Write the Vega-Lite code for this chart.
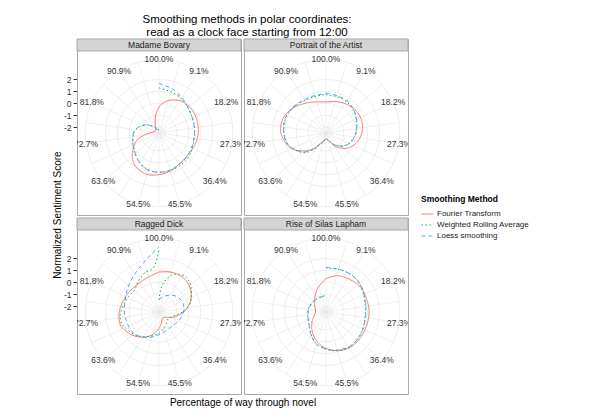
{
  "$schema": "https://vega.github.io/schema/vega-lite/v6.json",
  "padding": {"left": 52, "top": 13, "right": 5, "bottom": 5},
  "bounds": "flush",
  "title": {
    "text": ["Smoothing methods in polar coordinates:", "read as a clock face starting from 12:00"],
    "fontSize": 11.5, "lineHeight": 13, "fontWeight": "normal", "color": "#000000",
    "anchor": "start", "frame": "group", "align": "center", "dx": 170, "offset": -2
  },
  "datasets": {
    "panels": [
      {"novel": "Madame Bovary", "prow": 0, "pcol": 0},
      {"novel": "Portrait of the Artist", "prow": 0, "pcol": 1},
      {"novel": "Ragged Dick", "prow": 1, "pcol": 0},
      {"novel": "Rise of Silas Lapham", "prow": 1, "pcol": 1}
    ],
    "rows": [
      {"novel": "Madame Bovary", "kind": "spoke", "pct": 0, "label": "100.0%"},
      {"novel": "Madame Bovary", "kind": "spoke", "pct": 4.5455},
      {"novel": "Madame Bovary", "kind": "spoke", "pct": 9.0909, "label": "9.1%"},
      {"novel": "Madame Bovary", "kind": "spoke", "pct": 13.6364},
      {"novel": "Madame Bovary", "kind": "spoke", "pct": 18.1818, "label": "18.2%"},
      {"novel": "Madame Bovary", "kind": "spoke", "pct": 22.7273},
      {"novel": "Madame Bovary", "kind": "spoke", "pct": 27.2727, "label": "27.3%"},
      {"novel": "Madame Bovary", "kind": "spoke", "pct": 31.8182},
      {"novel": "Madame Bovary", "kind": "spoke", "pct": 36.3636, "label": "36.4%"},
      {"novel": "Madame Bovary", "kind": "spoke", "pct": 40.9091},
      {"novel": "Madame Bovary", "kind": "spoke", "pct": 45.4545, "label": "45.5%"},
      {"novel": "Madame Bovary", "kind": "spoke", "pct": 50},
      {"novel": "Madame Bovary", "kind": "spoke", "pct": 54.5455, "label": "54.5%"},
      {"novel": "Madame Bovary", "kind": "spoke", "pct": 59.0909},
      {"novel": "Madame Bovary", "kind": "spoke", "pct": 63.6364, "label": "63.6%"},
      {"novel": "Madame Bovary", "kind": "spoke", "pct": 68.1818},
      {"novel": "Madame Bovary", "kind": "spoke", "pct": 72.7273, "label": "72.7%"},
      {"novel": "Madame Bovary", "kind": "spoke", "pct": 77.2727},
      {"novel": "Madame Bovary", "kind": "spoke", "pct": 81.8182, "label": "81.8%"},
      {"novel": "Madame Bovary", "kind": "spoke", "pct": 86.3636},
      {"novel": "Madame Bovary", "kind": "spoke", "pct": 90.9091, "label": "90.9%"},
      {"novel": "Madame Bovary", "kind": "spoke", "pct": 95.4545},
      {"novel": "Madame Bovary", "kind": "ring", "score": -2},
      {"novel": "Madame Bovary", "kind": "ring", "score": -1},
      {"novel": "Madame Bovary", "kind": "ring", "score": 0},
      {"novel": "Madame Bovary", "kind": "ring", "score": 1},
      {"novel": "Madame Bovary", "kind": "ring", "score": 2},
      {"novel": "Portrait of the Artist", "kind": "spoke", "pct": 0, "label": "100.0%"},
      {"novel": "Portrait of the Artist", "kind": "spoke", "pct": 4.5455},
      {"novel": "Portrait of the Artist", "kind": "spoke", "pct": 9.0909, "label": "9.1%"},
      {"novel": "Portrait of the Artist", "kind": "spoke", "pct": 13.6364},
      {"novel": "Portrait of the Artist", "kind": "spoke", "pct": 18.1818, "label": "18.2%"},
      {"novel": "Portrait of the Artist", "kind": "spoke", "pct": 22.7273},
      {"novel": "Portrait of the Artist", "kind": "spoke", "pct": 27.2727, "label": "27.3%"},
      {"novel": "Portrait of the Artist", "kind": "spoke", "pct": 31.8182},
      {"novel": "Portrait of the Artist", "kind": "spoke", "pct": 36.3636, "label": "36.4%"},
      {"novel": "Portrait of the Artist", "kind": "spoke", "pct": 40.9091},
      {"novel": "Portrait of the Artist", "kind": "spoke", "pct": 45.4545, "label": "45.5%"},
      {"novel": "Portrait of the Artist", "kind": "spoke", "pct": 50},
      {"novel": "Portrait of the Artist", "kind": "spoke", "pct": 54.5455, "label": "54.5%"},
      {"novel": "Portrait of the Artist", "kind": "spoke", "pct": 59.0909},
      {"novel": "Portrait of the Artist", "kind": "spoke", "pct": 63.6364, "label": "63.6%"},
      {"novel": "Portrait of the Artist", "kind": "spoke", "pct": 68.1818},
      {"novel": "Portrait of the Artist", "kind": "spoke", "pct": 72.7273, "label": "72.7%"},
      {"novel": "Portrait of the Artist", "kind": "spoke", "pct": 77.2727},
      {"novel": "Portrait of the Artist", "kind": "spoke", "pct": 81.8182, "label": "81.8%"},
      {"novel": "Portrait of the Artist", "kind": "spoke", "pct": 86.3636},
      {"novel": "Portrait of the Artist", "kind": "spoke", "pct": 90.9091, "label": "90.9%"},
      {"novel": "Portrait of the Artist", "kind": "spoke", "pct": 95.4545},
      {"novel": "Portrait of the Artist", "kind": "ring", "score": -2},
      {"novel": "Portrait of the Artist", "kind": "ring", "score": -1},
      {"novel": "Portrait of the Artist", "kind": "ring", "score": 0},
      {"novel": "Portrait of the Artist", "kind": "ring", "score": 1},
      {"novel": "Portrait of the Artist", "kind": "ring", "score": 2},
      {"novel": "Ragged Dick", "kind": "spoke", "pct": 0, "label": "100.0%"},
      {"novel": "Ragged Dick", "kind": "spoke", "pct": 4.5455},
      {"novel": "Ragged Dick", "kind": "spoke", "pct": 9.0909, "label": "9.1%"},
      {"novel": "Ragged Dick", "kind": "spoke", "pct": 13.6364},
      {"novel": "Ragged Dick", "kind": "spoke", "pct": 18.1818, "label": "18.2%"},
      {"novel": "Ragged Dick", "kind": "spoke", "pct": 22.7273},
      {"novel": "Ragged Dick", "kind": "spoke", "pct": 27.2727, "label": "27.3%"},
      {"novel": "Ragged Dick", "kind": "spoke", "pct": 31.8182},
      {"novel": "Ragged Dick", "kind": "spoke", "pct": 36.3636, "label": "36.4%"},
      {"novel": "Ragged Dick", "kind": "spoke", "pct": 40.9091},
      {"novel": "Ragged Dick", "kind": "spoke", "pct": 45.4545, "label": "45.5%"},
      {"novel": "Ragged Dick", "kind": "spoke", "pct": 50},
      {"novel": "Ragged Dick", "kind": "spoke", "pct": 54.5455, "label": "54.5%"},
      {"novel": "Ragged Dick", "kind": "spoke", "pct": 59.0909},
      {"novel": "Ragged Dick", "kind": "spoke", "pct": 63.6364, "label": "63.6%"},
      {"novel": "Ragged Dick", "kind": "spoke", "pct": 68.1818},
      {"novel": "Ragged Dick", "kind": "spoke", "pct": 72.7273, "label": "72.7%"},
      {"novel": "Ragged Dick", "kind": "spoke", "pct": 77.2727},
      {"novel": "Ragged Dick", "kind": "spoke", "pct": 81.8182, "label": "81.8%"},
      {"novel": "Ragged Dick", "kind": "spoke", "pct": 86.3636},
      {"novel": "Ragged Dick", "kind": "spoke", "pct": 90.9091, "label": "90.9%"},
      {"novel": "Ragged Dick", "kind": "spoke", "pct": 95.4545},
      {"novel": "Ragged Dick", "kind": "ring", "score": -2},
      {"novel": "Ragged Dick", "kind": "ring", "score": -1},
      {"novel": "Ragged Dick", "kind": "ring", "score": 0},
      {"novel": "Ragged Dick", "kind": "ring", "score": 1},
      {"novel": "Ragged Dick", "kind": "ring", "score": 2},
      {"novel": "Rise of Silas Lapham", "kind": "spoke", "pct": 0, "label": "100.0%"},
      {"novel": "Rise of Silas Lapham", "kind": "spoke", "pct": 4.5455},
      {"novel": "Rise of Silas Lapham", "kind": "spoke", "pct": 9.0909, "label": "9.1%"},
      {"novel": "Rise of Silas Lapham", "kind": "spoke", "pct": 13.6364},
      {"novel": "Rise of Silas Lapham", "kind": "spoke", "pct": 18.1818, "label": "18.2%"},
      {"novel": "Rise of Silas Lapham", "kind": "spoke", "pct": 22.7273},
      {"novel": "Rise of Silas Lapham", "kind": "spoke", "pct": 27.2727, "label": "27.3%"},
      {"novel": "Rise of Silas Lapham", "kind": "spoke", "pct": 31.8182},
      {"novel": "Rise of Silas Lapham", "kind": "spoke", "pct": 36.3636, "label": "36.4%"},
      {"novel": "Rise of Silas Lapham", "kind": "spoke", "pct": 40.9091},
      {"novel": "Rise of Silas Lapham", "kind": "spoke", "pct": 45.4545, "label": "45.5%"},
      {"novel": "Rise of Silas Lapham", "kind": "spoke", "pct": 50},
      {"novel": "Rise of Silas Lapham", "kind": "spoke", "pct": 54.5455, "label": "54.5%"},
      {"novel": "Rise of Silas Lapham", "kind": "spoke", "pct": 59.0909},
      {"novel": "Rise of Silas Lapham", "kind": "spoke", "pct": 63.6364, "label": "63.6%"},
      {"novel": "Rise of Silas Lapham", "kind": "spoke", "pct": 68.1818},
      {"novel": "Rise of Silas Lapham", "kind": "spoke", "pct": 72.7273, "label": "72.7%"},
      {"novel": "Rise of Silas Lapham", "kind": "spoke", "pct": 77.2727},
      {"novel": "Rise of Silas Lapham", "kind": "spoke", "pct": 81.8182, "label": "81.8%"},
      {"novel": "Rise of Silas Lapham", "kind": "spoke", "pct": 86.3636},
      {"novel": "Rise of Silas Lapham", "kind": "spoke", "pct": 90.9091, "label": "90.9%"},
      {"novel": "Rise of Silas Lapham", "kind": "spoke", "pct": 95.4545},
      {"novel": "Rise of Silas Lapham", "kind": "ring", "score": -2},
      {"novel": "Rise of Silas Lapham", "kind": "ring", "score": -1},
      {"novel": "Rise of Silas Lapham", "kind": "ring", "score": 0},
      {"novel": "Rise of Silas Lapham", "kind": "ring", "score": 1},
      {"novel": "Rise of Silas Lapham", "kind": "ring", "score": 2},
      {"novel": "Madame Bovary", "method": "Fourier Transform", "pct": 0, "score": -0.3},
      {"novel": "Madame Bovary", "method": "Fourier Transform", "pct": 2.5, "score": 0.08},
      {"novel": "Madame Bovary", "method": "Fourier Transform", "pct": 5, "score": 0.38},
      {"novel": "Madame Bovary", "method": "Fourier Transform", "pct": 7.5, "score": 0.6},
      {"novel": "Madame Bovary", "method": "Fourier Transform", "pct": 10, "score": 0.78},
      {"novel": "Madame Bovary", "method": "Fourier Transform", "pct": 15, "score": 0.88},
      {"novel": "Madame Bovary", "method": "Fourier Transform", "pct": 20, "score": 0.85},
      {"novel": "Madame Bovary", "method": "Fourier Transform", "pct": 25, "score": 0.79},
      {"novel": "Madame Bovary", "method": "Fourier Transform", "pct": 30, "score": 0.66},
      {"novel": "Madame Bovary", "method": "Fourier Transform", "pct": 35, "score": 0.55},
      {"novel": "Madame Bovary", "method": "Fourier Transform", "pct": 40, "score": 0.58},
      {"novel": "Madame Bovary", "method": "Fourier Transform", "pct": 45, "score": 0.8},
      {"novel": "Madame Bovary", "method": "Fourier Transform", "pct": 50, "score": 0.99},
      {"novel": "Madame Bovary", "method": "Fourier Transform", "pct": 55, "score": 1.12},
      {"novel": "Madame Bovary", "method": "Fourier Transform", "pct": 60, "score": 0.9},
      {"novel": "Madame Bovary", "method": "Fourier Transform", "pct": 62.5, "score": 0.62},
      {"novel": "Madame Bovary", "method": "Fourier Transform", "pct": 65, "score": 0.25},
      {"novel": "Madame Bovary", "method": "Fourier Transform", "pct": 67.5, "score": -0.15},
      {"novel": "Madame Bovary", "method": "Fourier Transform", "pct": 70, "score": -0.55},
      {"novel": "Madame Bovary", "method": "Fourier Transform", "pct": 72.5, "score": -1.2},
      {"novel": "Madame Bovary", "method": "Fourier Transform", "pct": 75, "score": -1.75},
      {"novel": "Madame Bovary", "method": "Fourier Transform", "pct": 77.5, "score": -2.0},
      {"novel": "Madame Bovary", "method": "Fourier Transform", "pct": 80, "score": -2.1},
      {"novel": "Madame Bovary", "method": "Fourier Transform", "pct": 85, "score": -2.15},
      {"novel": "Madame Bovary", "method": "Fourier Transform", "pct": 90, "score": -2.0},
      {"novel": "Madame Bovary", "method": "Fourier Transform", "pct": 92.5, "score": -1.8},
      {"novel": "Madame Bovary", "method": "Fourier Transform", "pct": 95, "score": -1.45},
      {"novel": "Madame Bovary", "method": "Fourier Transform", "pct": 97.5, "score": -0.9},
      {"novel": "Madame Bovary", "method": "Fourier Transform", "pct": 100, "score": -0.3},
      {"novel": "Madame Bovary", "method": "Weighted Rolling Average", "pct": 0, "score": 1.28},
      {"novel": "Madame Bovary", "method": "Weighted Rolling Average", "pct": 5, "score": 1.08},
      {"novel": "Madame Bovary", "method": "Weighted Rolling Average", "pct": 10, "score": 0.9},
      {"novel": "Madame Bovary", "method": "Weighted Rolling Average", "pct": 15, "score": 0.66},
      {"novel": "Madame Bovary", "method": "Weighted Rolling Average", "pct": 20, "score": 0.55},
      {"novel": "Madame Bovary", "method": "Weighted Rolling Average", "pct": 25, "score": 0.5},
      {"novel": "Madame Bovary", "method": "Weighted Rolling Average", "pct": 30, "score": 0.52},
      {"novel": "Madame Bovary", "method": "Weighted Rolling Average", "pct": 35, "score": 0.68},
      {"novel": "Madame Bovary", "method": "Weighted Rolling Average", "pct": 40, "score": 0.75},
      {"novel": "Madame Bovary", "method": "Weighted Rolling Average", "pct": 45, "score": 0.78},
      {"novel": "Madame Bovary", "method": "Weighted Rolling Average", "pct": 50, "score": 0.78},
      {"novel": "Madame Bovary", "method": "Weighted Rolling Average", "pct": 55, "score": 0.7},
      {"novel": "Madame Bovary", "method": "Weighted Rolling Average", "pct": 60, "score": 0.4},
      {"novel": "Madame Bovary", "method": "Weighted Rolling Average", "pct": 65, "score": 0.08},
      {"novel": "Madame Bovary", "method": "Weighted Rolling Average", "pct": 70, "score": -0.18},
      {"novel": "Madame Bovary", "method": "Weighted Rolling Average", "pct": 75, "score": -0.38},
      {"novel": "Madame Bovary", "method": "Weighted Rolling Average", "pct": 77.5, "score": -0.55},
      {"novel": "Madame Bovary", "method": "Weighted Rolling Average", "pct": 80, "score": -0.8},
      {"novel": "Madame Bovary", "method": "Weighted Rolling Average", "pct": 82.5, "score": -1.08},
      {"novel": "Madame Bovary", "method": "Weighted Rolling Average", "pct": 85, "score": -1.35},
      {"novel": "Madame Bovary", "method": "Weighted Rolling Average", "pct": 87.5, "score": -1.68},
      {"novel": "Madame Bovary", "method": "Weighted Rolling Average", "pct": 90, "score": -1.92},
      {"novel": "Madame Bovary", "method": "Weighted Rolling Average", "pct": 95, "score": -2.15},
      {"novel": "Madame Bovary", "method": "Weighted Rolling Average", "pct": 100, "score": -2.22},
      {"novel": "Madame Bovary", "method": "Loess smoothing", "pct": 0, "score": 1.66},
      {"novel": "Madame Bovary", "method": "Loess smoothing", "pct": 5, "score": 1.35},
      {"novel": "Madame Bovary", "method": "Loess smoothing", "pct": 10, "score": 0.95},
      {"novel": "Madame Bovary", "method": "Loess smoothing", "pct": 15, "score": 0.68},
      {"novel": "Madame Bovary", "method": "Loess smoothing", "pct": 20, "score": 0.53},
      {"novel": "Madame Bovary", "method": "Loess smoothing", "pct": 25, "score": 0.47},
      {"novel": "Madame Bovary", "method": "Loess smoothing", "pct": 30, "score": 0.47},
      {"novel": "Madame Bovary", "method": "Loess smoothing", "pct": 35, "score": 0.55},
      {"novel": "Madame Bovary", "method": "Loess smoothing", "pct": 40, "score": 0.6},
      {"novel": "Madame Bovary", "method": "Loess smoothing", "pct": 45, "score": 0.74},
      {"novel": "Madame Bovary", "method": "Loess smoothing", "pct": 50, "score": 0.8},
      {"novel": "Madame Bovary", "method": "Loess smoothing", "pct": 55, "score": 0.74},
      {"novel": "Madame Bovary", "method": "Loess smoothing", "pct": 60, "score": 0.42},
      {"novel": "Madame Bovary", "method": "Loess smoothing", "pct": 65, "score": 0.04},
      {"novel": "Madame Bovary", "method": "Loess smoothing", "pct": 70, "score": -0.2},
      {"novel": "Madame Bovary", "method": "Loess smoothing", "pct": 75, "score": -0.35},
      {"novel": "Madame Bovary", "method": "Loess smoothing", "pct": 77.5, "score": -0.52},
      {"novel": "Madame Bovary", "method": "Loess smoothing", "pct": 80, "score": -0.78},
      {"novel": "Madame Bovary", "method": "Loess smoothing", "pct": 82.5, "score": -1.05},
      {"novel": "Madame Bovary", "method": "Loess smoothing", "pct": 85, "score": -1.33},
      {"novel": "Madame Bovary", "method": "Loess smoothing", "pct": 87.5, "score": -1.7},
      {"novel": "Madame Bovary", "method": "Loess smoothing", "pct": 90, "score": -1.95},
      {"novel": "Madame Bovary", "method": "Loess smoothing", "pct": 95, "score": -2.2},
      {"novel": "Madame Bovary", "method": "Loess smoothing", "pct": 100, "score": -2.28},
      {"novel": "Portrait of the Artist", "method": "Fourier Transform", "pct": 0, "score": 0.1},
      {"novel": "Portrait of the Artist", "method": "Fourier Transform", "pct": 5, "score": 0.27},
      {"novel": "Portrait of the Artist", "method": "Fourier Transform", "pct": 10, "score": 0.47},
      {"novel": "Portrait of the Artist", "method": "Fourier Transform", "pct": 15, "score": 0.64},
      {"novel": "Portrait of the Artist", "method": "Fourier Transform", "pct": 20, "score": 0.66},
      {"novel": "Portrait of the Artist", "method": "Fourier Transform", "pct": 25, "score": 0.5},
      {"novel": "Portrait of the Artist", "method": "Fourier Transform", "pct": 30, "score": 0.18},
      {"novel": "Portrait of the Artist", "method": "Fourier Transform", "pct": 35, "score": -0.33},
      {"novel": "Portrait of the Artist", "method": "Fourier Transform", "pct": 40, "score": -1.1},
      {"novel": "Portrait of the Artist", "method": "Fourier Transform", "pct": 42.5, "score": -1.55},
      {"novel": "Portrait of the Artist", "method": "Fourier Transform", "pct": 45, "score": -1.85},
      {"novel": "Portrait of the Artist", "method": "Fourier Transform", "pct": 47.5, "score": -1.96},
      {"novel": "Portrait of the Artist", "method": "Fourier Transform", "pct": 50, "score": -2.0},
      {"novel": "Portrait of the Artist", "method": "Fourier Transform", "pct": 52.5, "score": -1.95},
      {"novel": "Portrait of the Artist", "method": "Fourier Transform", "pct": 55, "score": -1.8},
      {"novel": "Portrait of the Artist", "method": "Fourier Transform", "pct": 57.5, "score": -1.5},
      {"novel": "Portrait of the Artist", "method": "Fourier Transform", "pct": 60, "score": -0.98},
      {"novel": "Portrait of the Artist", "method": "Fourier Transform", "pct": 62.5, "score": -0.45},
      {"novel": "Portrait of the Artist", "method": "Fourier Transform", "pct": 65, "score": 0.05},
      {"novel": "Portrait of the Artist", "method": "Fourier Transform", "pct": 67.5, "score": 0.55},
      {"novel": "Portrait of the Artist", "method": "Fourier Transform", "pct": 70, "score": 0.86},
      {"novel": "Portrait of the Artist", "method": "Fourier Transform", "pct": 75, "score": 1.28},
      {"novel": "Portrait of the Artist", "method": "Fourier Transform", "pct": 80, "score": 1.31},
      {"novel": "Portrait of the Artist", "method": "Fourier Transform", "pct": 85, "score": 1.0},
      {"novel": "Portrait of the Artist", "method": "Fourier Transform", "pct": 90, "score": 0.56},
      {"novel": "Portrait of the Artist", "method": "Fourier Transform", "pct": 95, "score": 0.24},
      {"novel": "Portrait of the Artist", "method": "Fourier Transform", "pct": 100, "score": 0.1},
      {"novel": "Portrait of the Artist", "method": "Weighted Rolling Average", "pct": 0, "score": 0.72},
      {"novel": "Portrait of the Artist", "method": "Weighted Rolling Average", "pct": 5, "score": 0.68},
      {"novel": "Portrait of the Artist", "method": "Weighted Rolling Average", "pct": 10, "score": 0.62},
      {"novel": "Portrait of the Artist", "method": "Weighted Rolling Average", "pct": 15, "score": 0.45},
      {"novel": "Portrait of the Artist", "method": "Weighted Rolling Average", "pct": 20, "score": 0.2},
      {"novel": "Portrait of the Artist", "method": "Weighted Rolling Average", "pct": 25, "score": -0.02},
      {"novel": "Portrait of the Artist", "method": "Weighted Rolling Average", "pct": 30, "score": -0.28},
      {"novel": "Portrait of the Artist", "method": "Weighted Rolling Average", "pct": 35, "score": -0.68},
      {"novel": "Portrait of the Artist", "method": "Weighted Rolling Average", "pct": 40, "score": -1.3},
      {"novel": "Portrait of the Artist", "method": "Weighted Rolling Average", "pct": 45, "score": -1.85},
      {"novel": "Portrait of the Artist", "method": "Weighted Rolling Average", "pct": 50, "score": -2.03},
      {"novel": "Portrait of the Artist", "method": "Weighted Rolling Average", "pct": 55, "score": -1.72},
      {"novel": "Portrait of the Artist", "method": "Weighted Rolling Average", "pct": 57.5, "score": -1.45},
      {"novel": "Portrait of the Artist", "method": "Weighted Rolling Average", "pct": 60, "score": -0.85},
      {"novel": "Portrait of the Artist", "method": "Weighted Rolling Average", "pct": 62.5, "score": -0.2},
      {"novel": "Portrait of the Artist", "method": "Weighted Rolling Average", "pct": 65, "score": 0.2},
      {"novel": "Portrait of the Artist", "method": "Weighted Rolling Average", "pct": 70, "score": 0.8},
      {"novel": "Portrait of the Artist", "method": "Weighted Rolling Average", "pct": 75, "score": 1.03},
      {"novel": "Portrait of the Artist", "method": "Weighted Rolling Average", "pct": 80, "score": 1.1},
      {"novel": "Portrait of the Artist", "method": "Weighted Rolling Average", "pct": 85, "score": 1.0},
      {"novel": "Portrait of the Artist", "method": "Weighted Rolling Average", "pct": 90, "score": 0.78},
      {"novel": "Portrait of the Artist", "method": "Weighted Rolling Average", "pct": 95, "score": 0.7},
      {"novel": "Portrait of the Artist", "method": "Weighted Rolling Average", "pct": 100, "score": 0.72},
      {"novel": "Portrait of the Artist", "method": "Loess smoothing", "pct": 0, "score": 0.85},
      {"novel": "Portrait of the Artist", "method": "Loess smoothing", "pct": 5, "score": 0.76},
      {"novel": "Portrait of the Artist", "method": "Loess smoothing", "pct": 10, "score": 0.7},
      {"novel": "Portrait of the Artist", "method": "Loess smoothing", "pct": 15, "score": 0.48},
      {"novel": "Portrait of the Artist", "method": "Loess smoothing", "pct": 20, "score": 0.22},
      {"novel": "Portrait of the Artist", "method": "Loess smoothing", "pct": 25, "score": 0.02},
      {"novel": "Portrait of the Artist", "method": "Loess smoothing", "pct": 30, "score": -0.23},
      {"novel": "Portrait of the Artist", "method": "Loess smoothing", "pct": 35, "score": -0.63},
      {"novel": "Portrait of the Artist", "method": "Loess smoothing", "pct": 40, "score": -1.28},
      {"novel": "Portrait of the Artist", "method": "Loess smoothing", "pct": 45, "score": -1.82},
      {"novel": "Portrait of the Artist", "method": "Loess smoothing", "pct": 50, "score": -2.03},
      {"novel": "Portrait of the Artist", "method": "Loess smoothing", "pct": 55, "score": -1.78},
      {"novel": "Portrait of the Artist", "method": "Loess smoothing", "pct": 57.5, "score": -1.55},
      {"novel": "Portrait of the Artist", "method": "Loess smoothing", "pct": 60, "score": -1.0},
      {"novel": "Portrait of the Artist", "method": "Loess smoothing", "pct": 62.5, "score": -0.3},
      {"novel": "Portrait of the Artist", "method": "Loess smoothing", "pct": 65, "score": 0.15},
      {"novel": "Portrait of the Artist", "method": "Loess smoothing", "pct": 70, "score": 0.82},
      {"novel": "Portrait of the Artist", "method": "Loess smoothing", "pct": 75, "score": 1.05},
      {"novel": "Portrait of the Artist", "method": "Loess smoothing", "pct": 80, "score": 1.14},
      {"novel": "Portrait of the Artist", "method": "Loess smoothing", "pct": 85, "score": 1.04},
      {"novel": "Portrait of the Artist", "method": "Loess smoothing", "pct": 90, "score": 0.84},
      {"novel": "Portrait of the Artist", "method": "Loess smoothing", "pct": 95, "score": 0.78},
      {"novel": "Portrait of the Artist", "method": "Loess smoothing", "pct": 100, "score": 0.8},
      {"novel": "Ragged Dick", "method": "Fourier Transform", "pct": 0, "score": 0.85},
      {"novel": "Ragged Dick", "method": "Fourier Transform", "pct": 5, "score": 1.0},
      {"novel": "Ragged Dick", "method": "Fourier Transform", "pct": 10, "score": 1.02},
      {"novel": "Ragged Dick", "method": "Fourier Transform", "pct": 15, "score": 0.76},
      {"novel": "Ragged Dick", "method": "Fourier Transform", "pct": 20, "score": 0.25},
      {"novel": "Ragged Dick", "method": "Fourier Transform", "pct": 25, "score": -0.42},
      {"novel": "Ragged Dick", "method": "Fourier Transform", "pct": 30, "score": -1.15},
      {"novel": "Ragged Dick", "method": "Fourier Transform", "pct": 32.5, "score": -1.5},
      {"novel": "Ragged Dick", "method": "Fourier Transform", "pct": 35, "score": -1.75},
      {"novel": "Ragged Dick", "method": "Fourier Transform", "pct": 37.5, "score": -1.88},
      {"novel": "Ragged Dick", "method": "Fourier Transform", "pct": 40, "score": -1.92},
      {"novel": "Ragged Dick", "method": "Fourier Transform", "pct": 42.5, "score": -1.88},
      {"novel": "Ragged Dick", "method": "Fourier Transform", "pct": 45, "score": -1.7},
      {"novel": "Ragged Dick", "method": "Fourier Transform", "pct": 47.5, "score": -1.45},
      {"novel": "Ragged Dick", "method": "Fourier Transform", "pct": 50, "score": -1.12},
      {"novel": "Ragged Dick", "method": "Fourier Transform", "pct": 55, "score": -0.46},
      {"novel": "Ragged Dick", "method": "Fourier Transform", "pct": 60, "score": 0.1},
      {"novel": "Ragged Dick", "method": "Fourier Transform", "pct": 65, "score": 0.58},
      {"novel": "Ragged Dick", "method": "Fourier Transform", "pct": 70, "score": 0.91},
      {"novel": "Ragged Dick", "method": "Fourier Transform", "pct": 75, "score": 0.83},
      {"novel": "Ragged Dick", "method": "Fourier Transform", "pct": 80, "score": 0.64},
      {"novel": "Ragged Dick", "method": "Fourier Transform", "pct": 85, "score": 0.5},
      {"novel": "Ragged Dick", "method": "Fourier Transform", "pct": 90, "score": 0.43},
      {"novel": "Ragged Dick", "method": "Fourier Transform", "pct": 95, "score": 0.55},
      {"novel": "Ragged Dick", "method": "Fourier Transform", "pct": 100, "score": 0.85},
      {"novel": "Ragged Dick", "method": "Weighted Rolling Average", "pct": 0, "score": -1.49},
      {"novel": "Ragged Dick", "method": "Weighted Rolling Average", "pct": 1.25, "score": -0.6},
      {"novel": "Ragged Dick", "method": "Weighted Rolling Average", "pct": 2.5, "score": 0.0},
      {"novel": "Ragged Dick", "method": "Weighted Rolling Average", "pct": 5, "score": 0.72},
      {"novel": "Ragged Dick", "method": "Weighted Rolling Average", "pct": 7.5, "score": 1.06},
      {"novel": "Ragged Dick", "method": "Weighted Rolling Average", "pct": 10, "score": 1.22},
      {"novel": "Ragged Dick", "method": "Weighted Rolling Average", "pct": 12.5, "score": 1.1},
      {"novel": "Ragged Dick", "method": "Weighted Rolling Average", "pct": 15, "score": 0.85},
      {"novel": "Ragged Dick", "method": "Weighted Rolling Average", "pct": 17.5, "score": 0.55},
      {"novel": "Ragged Dick", "method": "Weighted Rolling Average", "pct": 20, "score": 0.3},
      {"novel": "Ragged Dick", "method": "Weighted Rolling Average", "pct": 22.5, "score": -0.1},
      {"novel": "Ragged Dick", "method": "Weighted Rolling Average", "pct": 25, "score": -0.55},
      {"novel": "Ragged Dick", "method": "Weighted Rolling Average", "pct": 27.5, "score": -1.0},
      {"novel": "Ragged Dick", "method": "Weighted Rolling Average", "pct": 30, "score": -1.3},
      {"novel": "Ragged Dick", "method": "Weighted Rolling Average", "pct": 32.5, "score": -1.5},
      {"novel": "Ragged Dick", "method": "Weighted Rolling Average", "pct": 35, "score": -1.55},
      {"novel": "Ragged Dick", "method": "Weighted Rolling Average", "pct": 40, "score": -1.4},
      {"novel": "Ragged Dick", "method": "Weighted Rolling Average", "pct": 45, "score": -1.1},
      {"novel": "Ragged Dick", "method": "Weighted Rolling Average", "pct": 50, "score": -0.72},
      {"novel": "Ragged Dick", "method": "Weighted Rolling Average", "pct": 55, "score": -0.38},
      {"novel": "Ragged Dick", "method": "Weighted Rolling Average", "pct": 60, "score": 0.05},
      {"novel": "Ragged Dick", "method": "Weighted Rolling Average", "pct": 65, "score": 0.42},
      {"novel": "Ragged Dick", "method": "Weighted Rolling Average", "pct": 70, "score": 0.76},
      {"novel": "Ragged Dick", "method": "Weighted Rolling Average", "pct": 72.5, "score": 0.8},
      {"novel": "Ragged Dick", "method": "Weighted Rolling Average", "pct": 75, "score": 0.7},
      {"novel": "Ragged Dick", "method": "Weighted Rolling Average", "pct": 80, "score": 0.45},
      {"novel": "Ragged Dick", "method": "Weighted Rolling Average", "pct": 82.5, "score": 0.35},
      {"novel": "Ragged Dick", "method": "Weighted Rolling Average", "pct": 85, "score": 0.28},
      {"novel": "Ragged Dick", "method": "Weighted Rolling Average", "pct": 87.5, "score": 0.3},
      {"novel": "Ragged Dick", "method": "Weighted Rolling Average", "pct": 90, "score": 0.55},
      {"novel": "Ragged Dick", "method": "Weighted Rolling Average", "pct": 92.5, "score": 0.8},
      {"novel": "Ragged Dick", "method": "Weighted Rolling Average", "pct": 95, "score": 1.03},
      {"novel": "Ragged Dick", "method": "Weighted Rolling Average", "pct": 97.5, "score": 1.15},
      {"novel": "Ragged Dick", "method": "Weighted Rolling Average", "pct": 99, "score": 1.65},
      {"novel": "Ragged Dick", "method": "Weighted Rolling Average", "pct": 100, "score": 2.84},
      {"novel": "Ragged Dick", "method": "Loess smoothing", "pct": 0, "score": -1.44},
      {"novel": "Ragged Dick", "method": "Loess smoothing", "pct": 5, "score": -1.13},
      {"novel": "Ragged Dick", "method": "Loess smoothing", "pct": 10, "score": -0.75},
      {"novel": "Ragged Dick", "method": "Loess smoothing", "pct": 15, "score": -0.45},
      {"novel": "Ragged Dick", "method": "Loess smoothing", "pct": 20, "score": -0.37},
      {"novel": "Ragged Dick", "method": "Loess smoothing", "pct": 25, "score": -0.46},
      {"novel": "Ragged Dick", "method": "Loess smoothing", "pct": 30, "score": -0.63},
      {"novel": "Ragged Dick", "method": "Loess smoothing", "pct": 35, "score": -0.82},
      {"novel": "Ragged Dick", "method": "Loess smoothing", "pct": 40, "score": -0.88},
      {"novel": "Ragged Dick", "method": "Loess smoothing", "pct": 45, "score": -0.8},
      {"novel": "Ragged Dick", "method": "Loess smoothing", "pct": 50, "score": -0.6},
      {"novel": "Ragged Dick", "method": "Loess smoothing", "pct": 55, "score": -0.28},
      {"novel": "Ragged Dick", "method": "Loess smoothing", "pct": 60, "score": 0.08},
      {"novel": "Ragged Dick", "method": "Loess smoothing", "pct": 65, "score": 0.3},
      {"novel": "Ragged Dick", "method": "Loess smoothing", "pct": 70, "score": 0.33},
      {"novel": "Ragged Dick", "method": "Loess smoothing", "pct": 75, "score": 0.4},
      {"novel": "Ragged Dick", "method": "Loess smoothing", "pct": 80, "score": 0.5},
      {"novel": "Ragged Dick", "method": "Loess smoothing", "pct": 85, "score": 0.77},
      {"novel": "Ragged Dick", "method": "Loess smoothing", "pct": 90, "score": 1.18},
      {"novel": "Ragged Dick", "method": "Loess smoothing", "pct": 92.5, "score": 1.45},
      {"novel": "Ragged Dick", "method": "Loess smoothing", "pct": 95, "score": 1.79},
      {"novel": "Ragged Dick", "method": "Loess smoothing", "pct": 97.5, "score": 2.3},
      {"novel": "Ragged Dick", "method": "Loess smoothing", "pct": 100, "score": 2.97},
      {"novel": "Rise of Silas Lapham", "method": "Fourier Transform", "pct": 0, "score": 0.3},
      {"novel": "Rise of Silas Lapham", "method": "Fourier Transform", "pct": 5, "score": 0.7},
      {"novel": "Rise of Silas Lapham", "method": "Fourier Transform", "pct": 10, "score": 0.87},
      {"novel": "Rise of Silas Lapham", "method": "Fourier Transform", "pct": 15, "score": 1.07},
      {"novel": "Rise of Silas Lapham", "method": "Fourier Transform", "pct": 20, "score": 1.07},
      {"novel": "Rise of Silas Lapham", "method": "Fourier Transform", "pct": 25, "score": 1.11},
      {"novel": "Rise of Silas Lapham", "method": "Fourier Transform", "pct": 30, "score": 1.09},
      {"novel": "Rise of Silas Lapham", "method": "Fourier Transform", "pct": 35, "score": 1.1},
      {"novel": "Rise of Silas Lapham", "method": "Fourier Transform", "pct": 40, "score": 1.1},
      {"novel": "Rise of Silas Lapham", "method": "Fourier Transform", "pct": 45, "score": 0.9},
      {"novel": "Rise of Silas Lapham", "method": "Fourier Transform", "pct": 50, "score": 0.55},
      {"novel": "Rise of Silas Lapham", "method": "Fourier Transform", "pct": 55, "score": 0.05},
      {"novel": "Rise of Silas Lapham", "method": "Fourier Transform", "pct": 60, "score": -0.52},
      {"novel": "Rise of Silas Lapham", "method": "Fourier Transform", "pct": 65, "score": -1.05},
      {"novel": "Rise of Silas Lapham", "method": "Fourier Transform", "pct": 70, "score": -1.45},
      {"novel": "Rise of Silas Lapham", "method": "Fourier Transform", "pct": 75, "score": -1.62},
      {"novel": "Rise of Silas Lapham", "method": "Fourier Transform", "pct": 80, "score": -1.55},
      {"novel": "Rise of Silas Lapham", "method": "Fourier Transform", "pct": 85, "score": -1.3},
      {"novel": "Rise of Silas Lapham", "method": "Fourier Transform", "pct": 90, "score": -0.92},
      {"novel": "Rise of Silas Lapham", "method": "Fourier Transform", "pct": 95, "score": -0.35},
      {"novel": "Rise of Silas Lapham", "method": "Fourier Transform", "pct": 100, "score": 0.3},
      {"novel": "Rise of Silas Lapham", "method": "Weighted Rolling Average", "pct": 0, "score": 1.2},
      {"novel": "Rise of Silas Lapham", "method": "Weighted Rolling Average", "pct": 5, "score": 1.22},
      {"novel": "Rise of Silas Lapham", "method": "Weighted Rolling Average", "pct": 10, "score": 1.27},
      {"novel": "Rise of Silas Lapham", "method": "Weighted Rolling Average", "pct": 15, "score": 1.14},
      {"novel": "Rise of Silas Lapham", "method": "Weighted Rolling Average", "pct": 20, "score": 0.9},
      {"novel": "Rise of Silas Lapham", "method": "Weighted Rolling Average", "pct": 25, "score": 0.8},
      {"novel": "Rise of Silas Lapham", "method": "Weighted Rolling Average", "pct": 30, "score": 0.84},
      {"novel": "Rise of Silas Lapham", "method": "Weighted Rolling Average", "pct": 35, "score": 0.95},
      {"novel": "Rise of Silas Lapham", "method": "Weighted Rolling Average", "pct": 40, "score": 1.05},
      {"novel": "Rise of Silas Lapham", "method": "Weighted Rolling Average", "pct": 45, "score": 0.9},
      {"novel": "Rise of Silas Lapham", "method": "Weighted Rolling Average", "pct": 50, "score": 0.62},
      {"novel": "Rise of Silas Lapham", "method": "Weighted Rolling Average", "pct": 55, "score": 0.25},
      {"novel": "Rise of Silas Lapham", "method": "Weighted Rolling Average", "pct": 60, "score": -0.32},
      {"novel": "Rise of Silas Lapham", "method": "Weighted Rolling Average", "pct": 65, "score": -0.75},
      {"novel": "Rise of Silas Lapham", "method": "Weighted Rolling Average", "pct": 70, "score": -0.9},
      {"novel": "Rise of Silas Lapham", "method": "Weighted Rolling Average", "pct": 75, "score": -0.95},
      {"novel": "Rise of Silas Lapham", "method": "Weighted Rolling Average", "pct": 80, "score": -1.03},
      {"novel": "Rise of Silas Lapham", "method": "Weighted Rolling Average", "pct": 85, "score": -1.12},
      {"novel": "Rise of Silas Lapham", "method": "Weighted Rolling Average", "pct": 90, "score": -1.15},
      {"novel": "Rise of Silas Lapham", "method": "Weighted Rolling Average", "pct": 95, "score": -1.14},
      {"novel": "Rise of Silas Lapham", "method": "Weighted Rolling Average", "pct": 100, "score": -1.12},
      {"novel": "Rise of Silas Lapham", "method": "Loess smoothing", "pct": 0, "score": 1.24},
      {"novel": "Rise of Silas Lapham", "method": "Loess smoothing", "pct": 5, "score": 1.25},
      {"novel": "Rise of Silas Lapham", "method": "Loess smoothing", "pct": 10, "score": 1.29},
      {"novel": "Rise of Silas Lapham", "method": "Loess smoothing", "pct": 15, "score": 1.16},
      {"novel": "Rise of Silas Lapham", "method": "Loess smoothing", "pct": 20, "score": 0.93},
      {"novel": "Rise of Silas Lapham", "method": "Loess smoothing", "pct": 25, "score": 0.85},
      {"novel": "Rise of Silas Lapham", "method": "Loess smoothing", "pct": 30, "score": 0.87},
      {"novel": "Rise of Silas Lapham", "method": "Loess smoothing", "pct": 35, "score": 0.97},
      {"novel": "Rise of Silas Lapham", "method": "Loess smoothing", "pct": 40, "score": 1.0},
      {"novel": "Rise of Silas Lapham", "method": "Loess smoothing", "pct": 45, "score": 0.84},
      {"novel": "Rise of Silas Lapham", "method": "Loess smoothing", "pct": 50, "score": 0.6},
      {"novel": "Rise of Silas Lapham", "method": "Loess smoothing", "pct": 55, "score": 0.28},
      {"novel": "Rise of Silas Lapham", "method": "Loess smoothing", "pct": 60, "score": -0.3},
      {"novel": "Rise of Silas Lapham", "method": "Loess smoothing", "pct": 65, "score": -0.74},
      {"novel": "Rise of Silas Lapham", "method": "Loess smoothing", "pct": 70, "score": -0.92},
      {"novel": "Rise of Silas Lapham", "method": "Loess smoothing", "pct": 75, "score": -1.0},
      {"novel": "Rise of Silas Lapham", "method": "Loess smoothing", "pct": 80, "score": -1.06},
      {"novel": "Rise of Silas Lapham", "method": "Loess smoothing", "pct": 85, "score": -1.13},
      {"novel": "Rise of Silas Lapham", "method": "Loess smoothing", "pct": 90, "score": -1.17},
      {"novel": "Rise of Silas Lapham", "method": "Loess smoothing", "pct": 95, "score": -1.18},
      {"novel": "Rise of Silas Lapham", "method": "Loess smoothing", "pct": 100, "score": -1.16}
    ]
  },
  "data": {"name": "rows"},
  "transform": [
    {"lookup": "novel", "from": {"data": {"name": "panels"}, "key": "novel", "fields": ["prow", "pcol"]}}
  ],
  "facet": {
    "row": {
      "field": "prow", "type": "ordinal",
      "header": {"labels": false, "title": "Normalized Sentiment Score", "titleFontSize": 10, "titleFontWeight": "normal", "titleColor": "#000000", "titlePadding": -10}
    },
    "column": {
      "field": "pcol", "type": "ordinal",
      "header": {"labels": false, "title": "Percentage of way through novel", "titleOrient": "bottom", "titleFontSize": 10, "titleFontWeight": "normal", "titleColor": "#000000", "titlePadding": -6}
    }
  },
  "spacing": {"row": 3, "column": 3},
  "spec": {
    "width": 164,
    "height": 176,
    "layer": [
      {
        "transform": [
          {"filter": "datum.kind == 'ring'"},
          {"calculate": "(datum.score + 2.5) / 5.5 * 0.4", "as": "r"}
        ],
        "mark": {"type": "point", "shape": "circle", "filled": false, "color": "#e6e6e6", "strokeWidth": 0.7, "opacity": 1},
        "encoding": {
          "x": {"datum": 0, "type": "quantitative", "scale": {"domain": [-0.5, 0.5], "nice": false, "zero": false}, "axis": null},
          "y": {"datum": 0, "type": "quantitative", "scale": {"domain": [-0.5, 0.57317], "nice": false, "zero": false},
            "axis": {"values": [0.036364, 0.109091, 0.181818, 0.254545, 0.327273], "labelExpr": "round(datum.value * 13.75 - 2.5)", "title": null, "domain": false, "grid": false, "tickSize": 4, "tickColor": "#333333", "labelFontSize": 8.5, "labelColor": "#333333", "labelPadding": 2}},
          "size": {"field": "r", "type": "quantitative", "scale": {"type": "pow", "exponent": 2, "domain": [0, 0.45], "range": [0, 21786]}, "legend": null}
        }
      },
      {
        "transform": [{"filter": "datum.kind == 'ring' && datum.score == 0"}],
        "mark": {"type": "point", "shape": "circle", "filled": false, "color": "#e6e6e6", "strokeWidth": 0.7, "opacity": 1, "size": 21786},
        "encoding": {
          "x": {"datum": 0, "type": "quantitative", "scale": {"domain": [-0.5, 0.5], "nice": false, "zero": false}, "axis": null},
          "y": {"datum": 0, "type": "quantitative", "scale": {"domain": [-0.5, 0.57317], "nice": false, "zero": false},
            "axis": {"values": [0.036364, 0.109091, 0.181818, 0.254545, 0.327273], "labelExpr": "round(datum.value * 13.75 - 2.5)", "title": null, "domain": false, "grid": false, "tickSize": 4, "tickColor": "#333333", "labelFontSize": 8.5, "labelColor": "#333333", "labelPadding": 2}}
        }
      },
      {
        "transform": [{"filter": "datum.kind == 'spoke'"}],
        "mark": {"type": "point", "shape": "M0,0L0,-1", "filled": false, "color": "#e6e6e6", "strokeWidth": 0.6, "opacity": 1, "size": 21786},
        "encoding": {
          "x": {"datum": 0, "type": "quantitative", "scale": {"domain": [-0.5, 0.5], "nice": false, "zero": false}, "axis": null},
          "y": {"datum": 0, "type": "quantitative", "scale": {"domain": [-0.5, 0.57317], "nice": false, "zero": false},
            "axis": {"values": [0.036364, 0.109091, 0.181818, 0.254545, 0.327273], "labelExpr": "round(datum.value * 13.75 - 2.5)", "title": null, "domain": false, "grid": false, "tickSize": 4, "tickColor": "#333333", "labelFontSize": 8.5, "labelColor": "#333333", "labelPadding": 2}},
          "angle": {"field": "pct", "type": "quantitative", "scale": {"domain": [0, 100], "range": [0, 360]}, "legend": null}
        }
      },
      {
        "transform": [
          {"filter": "datum.kind == 'spoke' && isValid(datum.label)"},
          {"calculate": "0.45 * sin(2 * PI * datum.pct / 100)", "as": "sx"},
          {"calculate": "0.45 * cos(2 * PI * datum.pct / 100)", "as": "sy"}
        ],
        "mark": {"type": "text", "fontSize": 8.5, "color": "#333333", "align": "center", "baseline": "middle", "clip": true},
        "encoding": {
          "x": {"field": "sx", "type": "quantitative", "scale": {"domain": [-0.5, 0.5], "nice": false, "zero": false}, "axis": null},
          "y": {"field": "sy", "type": "quantitative", "scale": {"domain": [-0.5, 0.57317], "nice": false, "zero": false},
            "axis": {"values": [0.036364, 0.109091, 0.181818, 0.254545, 0.327273], "labelExpr": "round(datum.value * 13.75 - 2.5)", "title": null, "domain": false, "grid": false, "tickSize": 4, "tickColor": "#333333", "labelFontSize": 8.5, "labelColor": "#333333", "labelPadding": 2}},
          "text": {"field": "label", "type": "nominal"}
        }
      },
      {
        "transform": [
          {"filter": "isValid(datum.method)"},
          {"calculate": "(datum.score + 2.5) / 5.5 * 0.4 * sin(2 * PI * datum.pct / 100)", "as": "px"},
          {"calculate": "(datum.score + 2.5) / 5.5 * 0.4 * cos(2 * PI * datum.pct / 100)", "as": "py"}
        ],
        "mark": {"type": "line", "strokeWidth": 1, "interpolate": "catmull-rom"},
        "encoding": {
          "x": {"field": "px", "type": "quantitative", "scale": {"domain": [-0.5, 0.5], "nice": false, "zero": false}, "axis": null},
          "y": {"field": "py", "type": "quantitative", "scale": {"domain": [-0.5, 0.57317], "nice": false, "zero": false},
            "axis": {"values": [0.036364, 0.109091, 0.181818, 0.254545, 0.327273], "labelExpr": "round(datum.value * 13.75 - 2.5)", "title": null, "domain": false, "grid": false, "tickSize": 4, "tickColor": "#333333", "labelFontSize": 8.5, "labelColor": "#333333", "labelPadding": 2}},
          "order": {"field": "pct", "type": "quantitative"},
          "color": {
            "field": "method", "type": "nominal",
            "scale": {"domain": ["Fourier Transform", "Weighted Rolling Average", "Loess smoothing"], "range": ["#F8766D", "#00BA38", "#619CFF"]},
            "legend": {"title": "Smoothing Method", "orient": "none", "legendX": 344, "legendY": 156}
          },
          "strokeDash": {
            "field": "method", "type": "nominal",
            "scale": {"domain": ["Fourier Transform", "Weighted Rolling Average", "Loess smoothing"], "range": [[1, 0], [1.5, 2.5], [4, 3]]},
            "legend": {"title": "Smoothing Method", "orient": "none", "legendX": 344, "legendY": 156}
          }
        }
      },
      {
        "transform": [{"filter": "datum.kind == 'ring' && datum.score == 0"}],
        "mark": {"type": "point", "shape": "M-1,-0.07317L1,-0.07317L1,0.07317L-1,0.07317Z", "filled": true, "fill": "#d4d4d4", "stroke": "#a6a6a6", "strokeWidth": 1, "opacity": 1, "size": 26896},
        "encoding": {
          "x": {"datum": 0, "type": "quantitative", "scale": {"domain": [-0.5, 0.5], "nice": false, "zero": false}, "axis": null},
          "y": {"datum": 0.53659, "type": "quantitative", "scale": {"domain": [-0.5, 0.57317], "nice": false, "zero": false},
            "axis": {"values": [0.036364, 0.109091, 0.181818, 0.254545, 0.327273], "labelExpr": "round(datum.value * 13.75 - 2.5)", "title": null, "domain": false, "grid": false, "tickSize": 4, "tickColor": "#333333", "labelFontSize": 8.5, "labelColor": "#333333", "labelPadding": 2}}
        }
      },
      {
        "transform": [{"filter": "datum.kind == 'ring' && datum.score == 0"}],
        "mark": {"type": "text", "fontSize": 8.5, "color": "#1a1a1a", "align": "center", "baseline": "middle"},
        "encoding": {
          "x": {"datum": 0, "type": "quantitative", "scale": {"domain": [-0.5, 0.5], "nice": false, "zero": false}, "axis": null},
          "y": {"datum": 0.53659, "type": "quantitative", "scale": {"domain": [-0.5, 0.57317], "nice": false, "zero": false},
            "axis": {"values": [0.036364, 0.109091, 0.181818, 0.254545, 0.327273], "labelExpr": "round(datum.value * 13.75 - 2.5)", "title": null, "domain": false, "grid": false, "tickSize": 4, "tickColor": "#333333", "labelFontSize": 8.5, "labelColor": "#333333", "labelPadding": 2}},
          "text": {"field": "novel", "type": "nominal"}
        }
      }
    ]
  },
  "config": {
    "font": "Liberation Sans",
    "view": {"stroke": "#aaaaaa", "strokeWidth": 1},
    "legend": {
      "titleFontSize": 8.5, "titleFontWeight": "bold", "titleColor": "#000000",
      "labelFontSize": 8, "labelColor": "#1a1a1a", "labelOffset": 3,
      "symbolType": "stroke", "symbolStrokeWidth": 1, "symbolSize": 144, "rowPadding": -2.5, "titlePadding": 4
    }
  }
}
